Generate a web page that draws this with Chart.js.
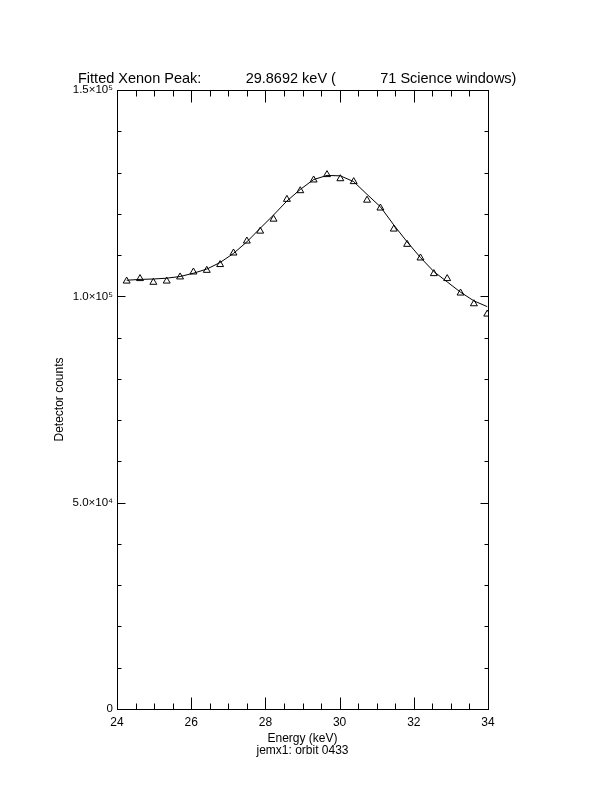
<!DOCTYPE html>
<html>
<head>
<meta charset="utf-8">
<script src="https://cdn.jsdelivr.net/npm/chart.js@4.4.0/dist/chart.umd.min.js"></script>
<style>
html,body{margin:0;padding:0;background:#fff;}
canvas{display:block;}
</style>
</head>
<body>
<canvas id="c" width="612" height="792"></canvas>
<script>
// ---- Data ----
const energies = [24.26, 24.62, 24.98, 25.34, 25.70, 26.06, 26.42, 26.78, 27.14, 27.50,
                  27.86, 28.22, 28.58, 28.94, 29.30, 29.66, 30.02, 30.38, 30.74, 31.10,
                  31.46, 31.82, 32.18, 32.54, 32.90, 33.26, 33.62, 33.98];
const counts = [103700, 104300, 103400, 103700, 104700, 105900, 106300, 107700, 110500, 113400,
                115800, 118700, 123500, 125600, 128200, 129500, 128500, 127800, 123300, 121400,
                116300, 112600, 109300, 105500, 104300, 100800, 98200, 95700];
const fitCounts = [103900, 104100, 104200, 104400, 104800, 105600, 106600, 108200, 110400, 113200,
                   116500, 119700, 123100, 125900, 128300, 129300, 129200, 127800, 124700, 121700,
                   117300, 113200, 109400, 106000, 103500, 101000, 98900, 97500];
const xTickValues = [24, 26, 28, 30, 32, 34];
const xTickLabels = ['24', '26', '28', '30', '32', '34'];
const yTickValues = [0, 50000, 100000, 150000];
const yTickLabels = ['0', '5.0×10⁴', '1.0×10⁵', '1.5×10⁵'];
const titleText = 'Fitted Xenon Peak:           29.8692 keV (           71 Science windows)';
const xTitle = ['Energy (keV)', 'jemx1: orbit 0433'];
const yTitle = 'Detector counts';

const FONT = "'Liberation Sans', Arial, sans-serif";

const frameTicks = {
  id: 'frameTicks',
  afterDraw(chart) {
    const {ctx, chartArea: a, scales: {x, y}} = chart;
    ctx.save();
    ctx.strokeStyle = '#000';
    ctx.lineWidth = 1;
    ctx.strokeRect(Math.round(a.left) + 0.5, Math.round(a.top) + 0.5,
                   Math.round(a.right - a.left), Math.round(a.bottom - a.top));
    ctx.beginPath();
    const t = Math.round(a.top) + 0.5, b = Math.round(a.bottom) + 0.5;
    const l = Math.round(a.left) + 0.5, r = Math.round(a.right) + 0.5;
    for (let i = 0; i <= 20; i++) {
      const v = x.min + i * 0.5;
      const px = Math.round(x.getPixelForValue(v)) + 0.5;
      const len = (i % 4 === 0) ? 12 : 6;
      ctx.moveTo(px, b); ctx.lineTo(px, b - len);
      ctx.moveTo(px, t); ctx.lineTo(px, t + len);
    }
    for (let i = 0; i <= 15; i++) {
      const v = i * 10000;
      const py = Math.round(y.getPixelForValue(v)) + 0.5;
      const len = (i % 5 === 0) ? 8 : 4;
      ctx.moveTo(l, py); ctx.lineTo(l + len, py);
      ctx.moveTo(r, py); ctx.lineTo(r - len, py);
    }
    ctx.stroke();
    ctx.fillStyle = '#000';
    ctx.font = '14.5px ' + FONT;
    ctx.textAlign = 'left';
    ctx.textBaseline = 'alphabetic';
    ctx.fillText(titleText, 78, 83);
    ctx.restore();
  }
};

new Chart(document.getElementById('c'), {
  data: {
    datasets: [
      {
        type: 'line',
        data: energies.map((e, i) => ({x: e, y: fitCounts[i]})),
        borderColor: '#000',
        borderWidth: 1,
        pointRadius: 0,
        fill: false,
        tension: 0
      },
      {
        type: 'line',
        showLine: false,
        data: energies.map((e, i) => ({x: e, y: counts[i]})),
        pointStyle: 'triangle',
        pointRadius: 4,
        pointBorderWidth: 1,
        pointBorderColor: '#000',
        pointBackgroundColor: 'rgba(0,0,0,0)'
      }
    ]
  },
  options: {
    responsive: false,
    animation: false,
    devicePixelRatio: 1,
    layout: {padding: {top: 90, right: 124, left: 0, bottom: 0}},
    plugins: {legend: {display: false}, tooltip: {enabled: false}, title: {display: false}},
    scales: {
      x: {
        type: 'linear',
        min: 24, max: 34,
        afterBuildTicks(s) { s.ticks = xTickValues.map(v => ({value: v})); },
        afterFit(s) { s.height = 83; },
        grid: {display: false, drawTicks: false},
        border: {display: false},
        ticks: {
          color: '#000', padding: 6, maxRotation: 0, autoSkip: false,
          font: {size: 12, family: FONT},
          callback: v => xTickLabels[xTickValues.indexOf(v)]
        },
        title: {
          display: true, text: xTitle, color: '#000',
          font: {size: 12, family: FONT, lineHeight: 1},
          padding: {top: 0, bottom: 35}
        }
      },
      y: {
        type: 'linear',
        min: 0, max: 150000,
        afterBuildTicks(s) { s.ticks = yTickValues.map(v => ({value: v})); },
        afterFit(s) { s.width = 117; },
        grid: {display: false, drawTicks: false},
        border: {display: false},
        ticks: {
          color: '#000', padding: 4, autoSkip: false,
          font: {size: 11.5, family: FONT},
          callback: v => yTickLabels[yTickValues.indexOf(v)]
        },
        title: {
          display: true, text: yTitle, color: '#000',
          font: {size: 12, family: FONT, lineHeight: 1},
          padding: {top: 54, bottom: 0}
        }
      }
    }
  },
  plugins: [frameTicks]
});
</script>
</body>
</html>
